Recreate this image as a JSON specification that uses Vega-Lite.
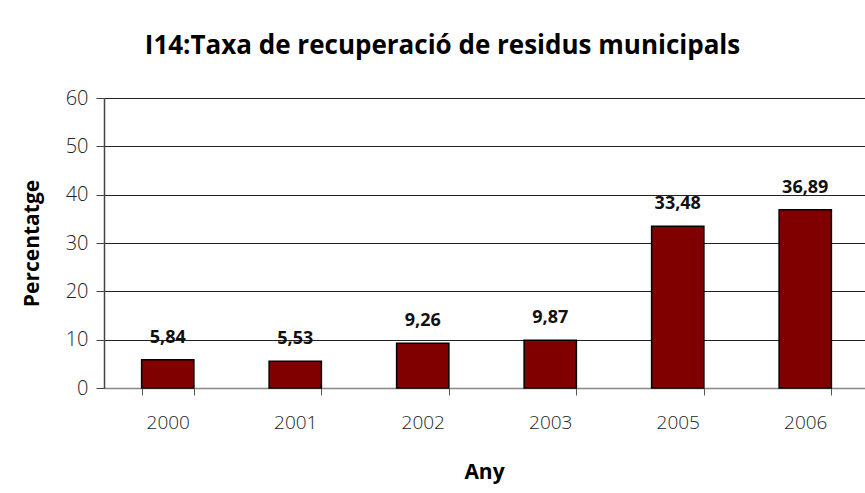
{
  "$schema": "https://vega.github.io/schema/vega-lite/v6.json",
  "autosize": {"type": "none"},
  "width": 765,
  "height": 290,
  "padding": {"left": 104, "top": 98, "right": 0, "bottom": 110},
  "background": "#ffffff",
  "config": {
    "locale": {"number": {"decimal": ",", "thousands": ".", "grouping": [3], "currency": ["", " €"]}},
    "font": "Open Sans",
    "view": {"stroke": null},
    "title": {"font": "Open Sans", "fontSize": 26, "fontWeight": "bold", "color": "#000000"}
  },
  "title": {
    "text": "I14:Taxa de recuperació de residus municipals",
    "anchor": "middle",
    "frame": "group",
    "baseline": "alphabetic",
    "offset": 8,
    "dx": -44
  },
  "data": {
    "values": [
      {"Any": "2000", "Percentatge": 5.84},
      {"Any": "2001", "Percentatge": 5.53},
      {"Any": "2002", "Percentatge": 9.26},
      {"Any": "2003", "Percentatge": 9.87},
      {"Any": "2005", "Percentatge": 33.48},
      {"Any": "2006", "Percentatge": 36.89}
    ]
  },
  "encoding": {
    "x": {
      "field": "Any",
      "type": "nominal",
      "sort": null,
      "scale": {"paddingInner": 0.59, "paddingOuter": 0.295},
      "axis": {
        "title": "Any",
        "labelAngle": 0,
        "labelFontSize": 19,
        "labelFontWeight": 300,
        "labelColor": "#222222",
        "labelPadding": 18,
        "tickBand": "extent",
        "tickSize": 7,
        "tickColor": "#555555",
        "domainColor": "#888888",
        "domainWidth": 1.5,
        "titleFontSize": 21,
        "titleFontWeight": "bold",
        "titleColor": "#000000",
        "titleBaseline": "alphabetic",
        "titleY": 90,
        "titleX": 380
      }
    },
    "y": {
      "field": "Percentatge",
      "type": "quantitative",
      "scale": {"domain": [0, 60], "nice": false},
      "axis": {
        "title": "Percentatge",
        "values": [0, 10, 20, 30, 40, 50, 60],
        "grid": true,
        "gridColor": "#222222",
        "gridWidth": 1,
        "domainColor": "#444444",
        "domainWidth": 1.5,
        "tickColor": "#444444",
        "tickSize": 8,
        "labelFontSize": 20,
        "labelFontWeight": 300,
        "labelColor": "#222222",
        "labelPadding": 8,
        "titleFontSize": 21,
        "titleFontWeight": "bold",
        "titleColor": "#000000",
        "titleAngle": -90,
        "titleAlign": "center",
        "titleBaseline": "middle",
        "titleX": -72,
        "titleY": 145
      }
    }
  },
  "layer": [
    {
      "mark": {"type": "bar", "color": "#800000", "stroke": "#000000", "strokeWidth": 1.5}
    },
    {
      "mark": {"type": "text", "baseline": "alphabetic", "dy": -17, "fontSize": 18, "fontWeight": "bold", "color": "#111111"},
      "encoding": {
        "text": {"field": "Percentatge", "type": "quantitative", "format": ".2f"}
      }
    }
  ]
}
